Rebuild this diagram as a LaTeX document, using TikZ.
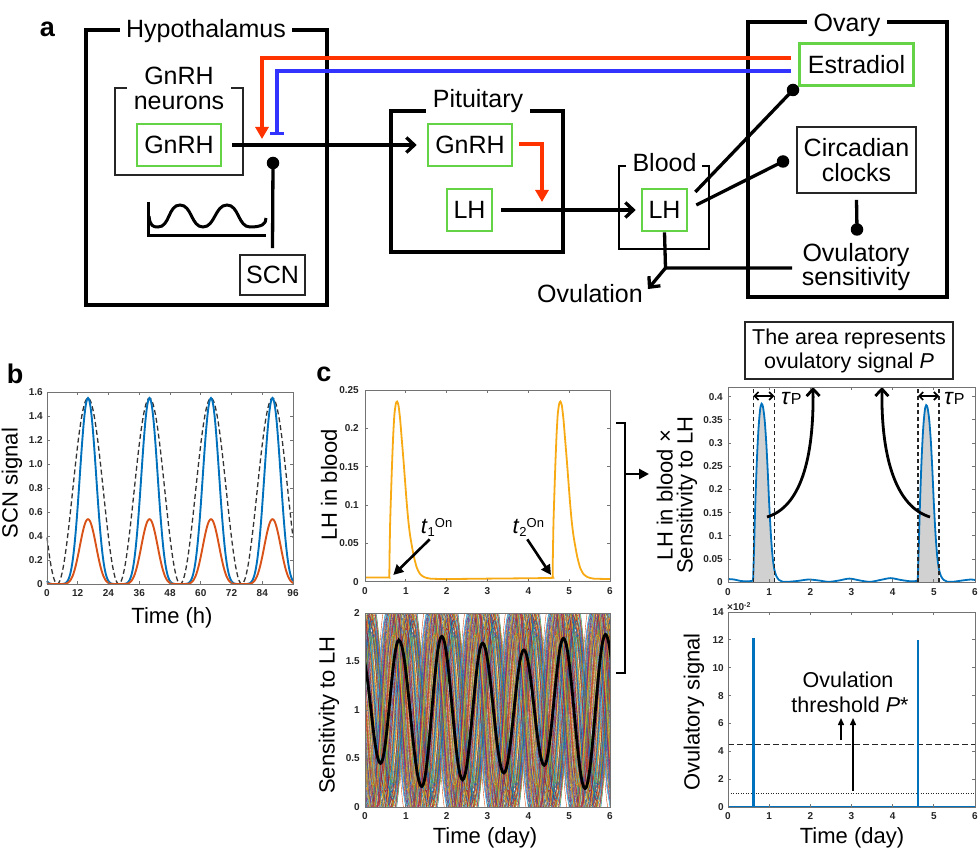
\documentclass[tikz,border=0pt]{standalone}
\usepackage{fontspec}
\setmainfont{Liberation Sans}
\usetikzlibrary{arrows.meta}
\definecolor{grn}{RGB}{100,212,70}
\definecolor{rd}{RGB}{255,51,0}
\definecolor{bl}{RGB}{51,51,255}
\definecolor{mb}{RGB}{0,114,189}
\definecolor{mo}{RGB}{217,83,25}
\definecolor{lhc}{RGB}{247,170,20}
\definecolor{c0}{RGB}{0,114,189}
\definecolor{c1}{RGB}{217,83,25}
\definecolor{c2}{RGB}{237,177,32}
\definecolor{c3}{RGB}{126,47,142}
\definecolor{c4}{RGB}{119,172,48}
\definecolor{c5}{RGB}{77,190,238}
\definecolor{c6}{RGB}{162,20,47}
\tikzset{
  big/.style={font=\fontsize{25}{25}\selectfont},
  mid/.style={font=\fontsize{21.5}{24}\selectfont},
  axl/.style={font=\fontsize{22}{23}\selectfont, inner sep=0pt},
  tk/.style={font=\fontsize{10}{10}\selectfont\bfseries, text=black!85, inner sep=0pt},
  plet/.style={font=\fontsize{27}{27}\selectfont\bfseries, inner sep=0pt},
  obox/.style={draw, line width=3.1pt, inner sep=0pt},
  gbox/.style={draw=grn, line width=2.6pt, big, inner sep=0pt, minimum height=42pt},
  tbox/.style={draw=black!85, line width=1.7pt, big, inner sep=0pt},
  ttl/.style={big, fill=white, inner xsep=6pt, inner ysep=0pt, anchor=base},
  conn/.style={line width=3.3pt},
  barb/.style={-{Straight Barb[length=8pt,width=15pt]}},
  tri/.style={-{Triangle[length=12pt,width=13pt]}},
  dot/.style={circle, fill=black, inner sep=0pt, minimum size=12.5pt},
  frame/.style={draw=black!55, line width=0.8pt},
}
\begin{document}
\begin{tikzpicture}[x=1pt,y=-1pt]
\useasboundingbox (0,0) rectangle (980,850);

% ================= panel a
\node[plet] (la) at (47.5,29.5) {a};
\node[obox, minimum width=241pt, minimum height=275pt] (hyp) at (206.5,167.5) {};
\node[ttl] (hypt) at (206,38) {Hypothalamus};
\draw[line width=1.7pt, black!85] (127,88) -| (115,175) -| (243,88) -- (231,88);
\node[big, anchor=base, inner sep=0pt] (gnt1) at (179,85) {GnRH};
\node[big, anchor=base, inner sep=0pt] (gnt2) at (179,110) {neurons};
\node[gbox, minimum width=84pt] (gn1) at (179,145) {GnRH};
\node[tbox, minimum width=65pt, minimum height=40pt] (scn) at (272.5,275) {SCN};
\draw[line width=3pt] (148,202) -- (148,236) -- (266,236);
\draw[line width=3pt] (149,216) .. controls (150,226) and (153,227) .. (158,227)
  .. controls (170,227) and (168,205) .. (180,205)
  .. controls (192,205) and (191,227) .. (203,227)
  .. controls (215,227) and (215,205) .. (227,205)
  .. controls (239,205) and (238,227) .. (250,227)
  .. controls (262,227) and (266,224) .. (266,218);

\node[obox, minimum width=172pt, minimum height=141pt] (pit) at (477,181.5) {};
\node[ttl, inner xsep=7pt] (pitt) at (478,108) {Pituitary};
\node[gbox, minimum width=84pt] (gn2) at (470,145) {GnRH};
\node[gbox, minimum width=45pt] (lh1) at (469.5,210) {LH};

\draw[line width=2.6pt] (626,166) -| (619,249) -| (709,166) -- (702,166);
\node[big, anchor=base, inner sep=0pt] (bloodt) at (664.5,172) {Blood};
\node[gbox, minimum width=45pt] (lh2) at (664.5,210) {LH};

\node[obox, minimum width=199pt, minimum height=275pt] (ova) at (847.5,159.5) {};
\node[ttl, inner xsep=7pt] (ovat) at (847,32) {Ovary};
\node[gbox, minimum width=114pt] (est) at (856.5,64.5) {Estradiol};
\node[tbox, minimum width=119pt, minimum height=66pt, align=center] (circ) at (856.5,160) {Circadian\\clocks};
\node[font=\fontsize{25}{23.5}\selectfont, align=center, inner sep=0pt] (ovs) at (856,267) {Ovulatory\\sensitivity};
\node[big, inner sep=0pt] (ovu) at (590,294) {Ovulation};

\node[dot] (d1) at (273,163) {};
\node[dot] (d2) at (793,90) {};
\node[dot] (d3) at (783,161.5) {};
\node[dot] (d4) at (857,229.5) {};
\coordinate (rtip) at (262,139);
\coordinate (btip) at (277,135);
\coordinate (ptip) at (542,202);
\coordinate (jn) at (665.5,268);
\coordinate (ovl) at (792,268);
\coordinate (ovtip) at (648,289);

\draw[conn, barb] ([xshift=10pt]gn1.east) -- ([xshift=-10pt]gn2.west);
\draw[conn, rd, tri] ([shift={(-7pt,6.5pt)}]est.west) -| (rtip);
\draw[conn, bl, -{Bar[width=14pt]}] ([shift={(-7pt,-6.5pt)}]est.west) -| (btip);
\draw[conn] ([yshift=6pt]scn.north) -- (d1.center);
\draw[conn, rd, tri] ([shift={(6pt,1pt)}]gn2.east) -| (ptip);
\draw[conn, barb] ([xshift=8pt]lh1.east) -- ([xshift=-5pt]lh2.west);
\draw[conn] ([shift={(7pt,18pt)}]lh2.east) -- (d2.center);
\draw[conn] ([shift={(8pt,5pt)}]lh2.east) -- (d3.center);
\draw[conn] ([yshift=-6pt]circ.south) -- (d4.center);
\draw[conn] (lh2.south) -- (jn) -- (ovl);
\draw[conn, barb] (jn) -- (ovtip);

% ================= panel b
\node[plet] (lb) at (15,374) {b};
\begin{scope}[shift={(47,584)},xscale=2.5625,yscale=-120]
\draw[black!80, line width=1.3pt, dash pattern=on 5pt off 3pt] plot[domain=0:96,samples=193,smooth] (\x,{0.775*(1-cos(15*(\x-4)))});
\draw[mb, line width=1.9pt] plot[domain=0:96,samples=289,smooth] (\x,{1.55*((1-cos(15*(\x-4)))/2)^3});
\draw[mo, line width=1.9pt] plot[domain=0:96,samples=289,smooth] (\x,{0.54*((1-cos(15*(\x-4)))/2)^3});
\end{scope}
\draw[frame] (47,392) rectangle (293,584);
\foreach \v [count=\k] in {0,12,...,96}{
  \pgfmathsetmacro\px{47+\v*2.5625}
  \draw[frame] (\px,584) -- ++(0,-3) (\px,392) -- ++(0,3);
  \node[tk, anchor=north] (bx\k) at (\px,589) {\v};}
\foreach \v/\l [count=\k] in {0/0,0.2/0.2,0.4/0.4,0.6/0.6,0.8/0.8,1/1.0,1.2/1.2,1.4/1.4,1.6/1.6}{
  \pgfmathsetmacro\py{584-\v*120}
  \draw[frame] (47,\py) -- ++(3,0) (293,\py) -- ++(-3,0);
  \node[tk, anchor=east] (by\k) at (43,\py) {\l};}
\node[axl, rotate=90] (byl) at (12,483) {SCN signal};
\node[axl, anchor=base] (bxl) at (172,623) {Time (h)};

% ================= panel c top
\node[plet] (lc) at (324,374) {c};
\begin{scope}[shift={(365,581.7)},xscale=40.833,yscale=-766.8]
\draw[lhc, line width=1.8pt] plot[smooth, tension=0.4] coordinates {
 (0,0.0055) (0.3,0.0055) (0.58,0.0055) (0.595,0.007) (0.6,0.03) (0.615,0.075) (0.635,0.11) (0.66,0.15) (0.69,0.19) (0.72,0.218) (0.755,0.232) (0.785,0.235) (0.82,0.23) (0.86,0.212) (0.9,0.186) (0.94,0.16) (0.98,0.132) (1.02,0.104) (1.06,0.08) (1.1,0.062) (1.15,0.046) (1.2,0.032) (1.27,0.018) (1.35,0.01) (1.45,0.006) (1.6,0.004) (2,0.0035) (3,0.004) (4,0.0045) (4.58,0.005)
 (4.595,0.007) (4.6,0.03) (4.615,0.075) (4.635,0.11) (4.66,0.15) (4.69,0.19) (4.72,0.218) (4.755,0.232) (4.785,0.235) (4.82,0.23) (4.86,0.212) (4.9,0.186) (4.94,0.16) (4.98,0.132) (5.02,0.104) (5.06,0.08) (5.1,0.062) (5.15,0.046) (5.2,0.032) (5.27,0.018) (5.35,0.01) (5.45,0.006) (5.6,0.004) (6,0.0035)};
\end{scope}
\draw[frame] (365,390) rectangle (610,581.7);
\foreach \v [count=\k] in {0,...,6}{
  \pgfmathsetmacro\px{365+\v*40.833}
  \draw[frame] (\px,581.7) -- ++(0,-3) (\px,390) -- ++(0,3);
  \node[tk, anchor=north] (cx\k) at (\px,587) {\v};}
\foreach \v/\l [count=\k] in {0/0,0.05/0.05,0.1/0.1,0.15/0.15,0.2/0.2,0.25/0.25}{
  \pgfmathsetmacro\py{581.7-\v*766.8}
  \draw[frame] (365,\py) -- ++(3,0) (610,\py) -- ++(-3,0);
  \node[tk, anchor=east] (cy\k) at (359,\py) {\l};}
\node[axl, rotate=90] (cyl) at (329,485) {LH in blood};
\node[inner sep=0pt, anchor=base] (t1) at (436.5,533) {\fontsize{22}{22}\selectfont\textit{t}\fontsize{13}{13}\selectfont\raisebox{-0.25em}{1}\raisebox{0.45em}{On}};
\node[inner sep=0pt, anchor=base] (t2) at (528.3,533) {\fontsize{22}{22}\selectfont\textit{t}\fontsize{13}{13}\selectfont\raisebox{-0.25em}{2}\raisebox{0.45em}{On}};
\coordinate (t1a) at (429.7,539.3);
\coordinate (t1b) at (393.3,575);
\coordinate (t2a) at (527.3,539.3);
\coordinate (t2b) at (551,575);
\draw[line width=2.6pt, -{Triangle[length=10pt,width=10pt]}] (t1a) -- (t1b);
\draw[line width=2.6pt, -{Triangle[length=10pt,width=10pt]}] (t2a) -- (t2b);

% ================= panel c bottom (sensitivity)
\begin{scope}
\clip (365,613) rectangle (610,807);
\begin{scope}[shift={(365,807)},xscale=40.833,yscale=-97]
\pgfmathsetseed{12}
\foreach \i in {1,...,130}{
  \pgfmathsetmacro\ph{0.87+0.36*rand}
  \pgfmathsetmacro\am{0.95+0.2*rand}
  \pgfmathtruncatemacro\ci{mod(\i,7)}
  \draw[color=c\ci, line width=0.4pt] plot[domain=0:6, samples=73, smooth] (\x,{1+\am*cos(360*(\x-\ph))});
}
\draw[black, line width=2.8pt] (-0.1,1.6) foreach \ta/\va/\tb/\vb in {-0.1/1.6/0.38/0.45, 0.38/0.45/0.83/1.72, 0.83/1.72/1.39/0.21, 1.39/0.21/1.88/1.76, 1.88/1.76/2.39/0.28, 2.39/0.28/2.88/1.69, 2.88/1.69/3.4/0.35, 3.4/0.35/3.89/1.62, 3.89/1.62/4.39/0.43, 4.39/0.43/4.86/1.74, 4.86/1.74/5.39/0.19, 5.39/0.19/5.89/1.78, 5.89/1.78/6.4/0.3}{ -- plot[domain=\ta:\tb, samples=16] (\x,{\va+(\vb-\va)*(1-cos(180*(\x-\ta)/(\tb-\ta)))/2}) };
\end{scope}
\end{scope}
\draw[frame] (365,613) rectangle (610,807);
\foreach \v [count=\k] in {0,...,6}{
  \pgfmathsetmacro\px{365+\v*40.833}
  \draw[frame] (\px,807) -- ++(0,-3) (\px,613) -- ++(0,3);
  \node[tk, anchor=north] (sx\k) at (\px,812) {\v};}
\foreach \v/\l [count=\k] in {0/0,0.5/0.5,1/1,1.5/1.5,2/2}{
  \pgfmathsetmacro\py{807-\v*97}
  \draw[frame] (365,\py) -- ++(3,0) (610,\py) -- ++(-3,0);
  \node[tk, anchor=east] (sy\k) at (360,\py) {\l};}
\node[axl, rotate=90] (syl) at (329,715) {Sensitivity to LH};
\node[axl, anchor=base] (sxl) at (485,843) {Time (day)};

% bracket
\coordinate (brt) at (616,423);
\coordinate (brb) at (616,673);
\coordinate (bra) at (625,474);
\coordinate (brh) at (649,474);
\draw[line width=2.6pt] (brt) -- (625,423) -- (625,673) -- (brb);
\draw[line width=2.6pt, -{Triangle[length=10pt,width=10pt]}] (bra) -- (brh);

% ================= right top
\node[draw=black!85, line width=1.7pt, minimum width=208pt, minimum height=57pt, align=center, font=\fontsize{21.5}{24}\selectfont, inner sep=0pt] (area) at (849,350.5) {The area represents\\ovulatory signal \textit{P}};
\begin{scope}[shift={(728,582.3)},xscale=41.167,yscale=-464]
\begin{scope}
\clip (0.615,0) rectangle (1.125,0.42);
\fill[black!18] plot[smooth, tension=0.5] coordinates {(0.58,0.003) (0.605,0.004) (0.615,0.02) (0.635,0.08) (0.66,0.16) (0.7,0.26) (0.74,0.33) (0.78,0.372) (0.815,0.385) (0.85,0.378) (0.89,0.35) (0.93,0.3) (0.97,0.23) (1.0,0.17) (1.04,0.105) (1.08,0.058) (1.12,0.03) (1.17,0.014) (1.24,0.005)} -- (1.24,0) -- (0.58,0) -- cycle;
\end{scope}
\begin{scope}
\clip (4.615,0) rectangle (5.125,0.42);
\fill[black!18] plot[smooth, tension=0.5] coordinates {(4.58,0.003) (4.605,0.004) (4.615,0.02) (4.635,0.08) (4.66,0.16) (4.7,0.26) (4.74,0.33) (4.78,0.37) (4.815,0.382) (4.85,0.375) (4.89,0.348) (4.93,0.3) (4.97,0.23) (5.0,0.17) (5.04,0.105) (5.08,0.058) (5.12,0.03) (5.17,0.014) (5.24,0.005)} -- (5.24,0) -- (4.58,0) -- cycle;
\end{scope}
\draw[mb, line width=1.8pt] plot[smooth, tension=0.5] coordinates {
 (0,0.007) (0.15,0.006) (0.3,0.003) (0.45,0.002) (0.58,0.003) (0.605,0.004) (0.615,0.02) (0.635,0.08) (0.66,0.16) (0.7,0.26) (0.74,0.33) (0.78,0.372) (0.815,0.385) (0.85,0.378) (0.89,0.35) (0.93,0.3) (0.97,0.23) (1.0,0.17) (1.04,0.105) (1.08,0.058) (1.12,0.03) (1.17,0.014) (1.24,0.005) (1.32,0.0015) (1.45,0.001) (1.7,0.003) (1.95,0.006) (2.2,0.004) (2.45,0.001) (2.7,0.004) (2.95,0.008) (3.2,0.004) (3.45,0.001) (3.7,0.005) (3.95,0.009) (4.2,0.005) (4.45,0.002) (4.58,0.003) (4.605,0.004)
 (4.615,0.02) (4.635,0.08) (4.66,0.16) (4.7,0.26) (4.74,0.33) (4.78,0.37) (4.815,0.382) (4.85,0.375) (4.89,0.348) (4.93,0.3) (4.97,0.23) (5.0,0.17) (5.04,0.105) (5.08,0.058) (5.12,0.03) (5.17,0.014) (5.24,0.005) (5.32,0.0015) (5.45,0.001) (5.7,0.004) (5.9,0.006) (6,0.005)};
\foreach \xx in {0.615,1.125,4.615,5.125}{
  \draw[black!85, line width=1.1pt, dash pattern=on 4pt off 3pt] (\xx,0) -- (\xx,0.42);}
\end{scope}
\coordinate (ta1) at (753.3,396);
\coordinate (tb1) at (774.3,396);
\coordinate (ta2) at (918.0,396);
\coordinate (tb2) at (939.0,396);
\draw[line width=1.7pt, {Straight Barb[length=4pt,width=8pt]}-{Straight Barb[length=4pt,width=8pt]}] (ta1) -- (tb1);
\draw[line width=1.7pt, {Straight Barb[length=4pt,width=8pt]}-{Straight Barb[length=4pt,width=8pt]}] (ta2) -- (tb2);
\node[inner sep=0pt, anchor=base west] (tau1) at (781,404) {\fontsize{23}{23}\selectfont\textit{τ}\fontsize{16}{16}\selectfont P};
\node[inner sep=0pt, anchor=base west] (tau2) at (944,404) {\fontsize{23}{23}\selectfont\textit{τ}\fontsize{16}{16}\selectfont P};
\coordinate (cu1) at (767,517);
\coordinate (cu1e) at (813,387);
\coordinate (cu2) at (930,517);
\coordinate (cu2e) at (882,387);
\draw[line width=2.8pt, -{Straight Barb[length=7pt,width=13pt]}] (cu1) .. controls (800,507) and (814,460) .. (cu1e);
\draw[line width=2.8pt, -{Straight Barb[length=7pt,width=13pt]}] (cu2) .. controls (897,507) and (881,460) .. (cu2e);
\draw[frame] (728,387.4) rectangle (975,582.3);
\foreach \v [count=\k] in {0,...,6}{
  \pgfmathsetmacro\px{728+\v*41.167}
  \draw[frame] (\px,582.3) -- ++(0,-3) (\px,387.4) -- ++(0,3);
  \node[tk, anchor=north] (rx\k) at (\px,588) {\v};}
\foreach \v/\l [count=\k] in {0/0,0.05/0.05,0.1/0.1,0.15/0.15,0.2/0.2,0.25/0.25,0.3/0.3,0.35/0.35,0.4/0.4}{
  \pgfmathsetmacro\py{582.3-\v*464}
  \draw[frame] (728,\py) -- ++(3,0) (975,\py) -- ++(-3,0);
  \node[tk, anchor=east] (ry\k) at (723,\py) {\l};}
\node[axl, rotate=90, align=center, font=\fontsize{22}{20}\selectfont] (ryl) at (677,495) {LH in blood ×\\Sensitivity to LH};

% ================= right bottom
\begin{scope}[shift={(728,807)},xscale=41.167,yscale=-13.93]
\draw[black!85, line width=1.2pt, dash pattern=on 6pt off 3pt] (0,4.5) -- (6,4.5);
\draw[black!85, line width=0.9pt, dash pattern=on 1pt off 1.5pt] (0,1) -- (6,1);
\draw[mb, line width=2.2pt] (0,0) -- (6,0);
\draw[mb, line width=2.2pt] (0.62,0) -- (0.62,12.1);
\draw[mb, line width=2.2pt] (4.62,0) -- (4.62,12.0);
\end{scope}
\draw[frame] (728,612) rectangle (975,807);
\foreach \v [count=\k] in {0,...,6}{
  \pgfmathsetmacro\px{728+\v*41.167}
  \draw[frame] (\px,807) -- ++(0,-3) (\px,612) -- ++(0,3);
  \node[tk, anchor=north] (ox\k) at (\px,812) {\v};}
\foreach \v [count=\k] in {0,2,...,14}{
  \pgfmathsetmacro\py{807-\v*13.93}
  \draw[frame] (728,\py) -- ++(3,0) (975,\py) -- ++(-3,0);
  \node[tk, anchor=east] (oy\k) at (724,\py) {\v};}
\node[tk, anchor=south west] (oexp) at (727,611) {×10\raisebox{0.35em}{\fontsize{7}{7}\selectfont -2}};
\node[axl, rotate=90] (oyl) at (694,712) {Ovulatory signal};
\node[axl, anchor=base] (oxl) at (852,843) {Time (day)};
\node[mid, anchor=base, inner sep=0pt] (thr1) at (848,687) {Ovulation};
\node[mid, anchor=base, inner sep=0pt] (thr2) at (850,712) {threshold \textit{P}*};
\coordinate (ar1a) at (841,740);
\coordinate (ar1b) at (841,718);
\coordinate (ar2a) at (853,791);
\coordinate (ar2b) at (853,718);
\draw[line width=1.4pt, -{Triangle[length=7pt,width=6pt]}] (ar1a) -- (ar1b);
\draw[line width=1.4pt, -{Triangle[length=7pt,width=6pt]}] (ar2a) -- (ar2b);
\end{tikzpicture}
\end{document}
